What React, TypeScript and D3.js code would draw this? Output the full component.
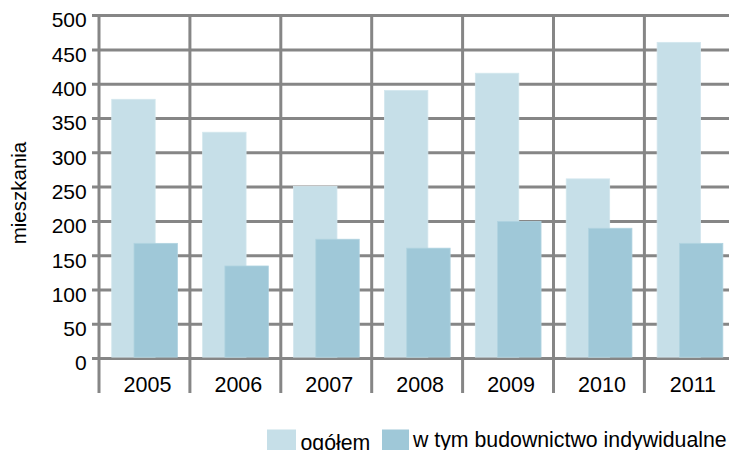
import React from "react";
import * as d3 from "d3";

const years = ["2005", "2006", "2007", "2008", "2009", "2010", "2011"];
const ogolem = [378, 330, 251, 391, 416, 262, 461];
const indywidualne = [168, 135, 174, 161, 200, 190, 168];
const yTicks = [0, 50, 100, 150, 200, 250, 300, 350, 400, 450, 500];
const seriesNames = ["ogółem", "w tym budownictwo indywidualne"];

const W = 729;
const H = 450;
const FONT = "'Liberation Sans', Arial, sans-serif";
const GRID = "#868686";
const LIGHT = "#c6dfe8";
const DARK = "#9fc8d8";

export default function App() {
  const x = d3.scaleBand<string>().domain(years).range([99, 99 + 7 * 90.9]).padding(0);
  const y = d3.scaleLinear().domain([0, 500]).range([358.6, 15.6]);
  const bw = x.bandwidth();
  const barW = bw * 0.478;
  const axisBottom = 393;

  return (
    <svg width={W} height={H} style={{ position: "absolute", left: 0, top: 0 }} fontFamily={FONT}>
      <rect width={W} height={H} fill="#fff" />
      {/* horizontal grid */}
      {yTicks.map((t) => (
        <line key={"h" + t} x1={92} x2={W} y1={y(t)} y2={y(t)} stroke={GRID} strokeWidth={3} />
      ))}
      {/* vertical grid */}
      {years.map((yr) => (
        <line key={"v" + yr} x1={x(yr)!} x2={x(yr)!} y1={y(500) - 1.5} y2={axisBottom} stroke={GRID} strokeWidth={3} />
      ))}
      <line x1={x.range()[1]} x2={x.range()[1]} y1={y(500) - 1.5} y2={axisBottom} stroke={GRID} strokeWidth={3} />
      {/* bars */}
      {years.map((yr, i) => {
        const x0 = x(yr)!;
        return (
          <g key={"b" + yr}>
            <rect x={x0 + bw * 0.14} y={y(ogolem[i])} width={barW} height={y(0) - y(ogolem[i]) - 1.5} fill={LIGHT} stroke="#d3e7ee" strokeWidth={0.8} />
            <rect x={x0 + bw * 0.385} y={y(indywidualne[i])} width={barW} height={y(0) - y(indywidualne[i]) - 1.5} fill={DARK} stroke="#b0d3e0" strokeWidth={0.8} />
          </g>
        );
      })}
      {/* y tick labels */}
      {yTicks.map((t) => (
        <text key={"t" + t} x={86.7} y={y(t) + 11.8} textAnchor="end" fontSize={21} fill="#000">
          {t}
        </text>
      ))}
      {/* x labels */}
      {years.map((yr) => (
        <text key={"x" + yr} x={x(yr)! + bw / 2 + 3} y={391.7} textAnchor="middle" fontSize={21.5} fill="#000">
          {yr}
        </text>
      ))}
      {/* y axis title */}
      <text transform="translate(26,193) rotate(-90)" textAnchor="middle" fontSize={20.5} fill="#000">
        mieszkania
      </text>
      {/* legend */}
      <rect x={267} y={429.5} width={29} height={25} fill={LIGHT} />
      <text x={300.5} y={449.5} fontSize={21.3} fill="#000">{seriesNames[0]}</text>
      <rect x={382} y={429.5} width={27} height={25} fill={DARK} />
      <text x={413} y={446.5} fontSize={21.3} fill="#000">{seriesNames[1]}</text>
    </svg>
  );
}
